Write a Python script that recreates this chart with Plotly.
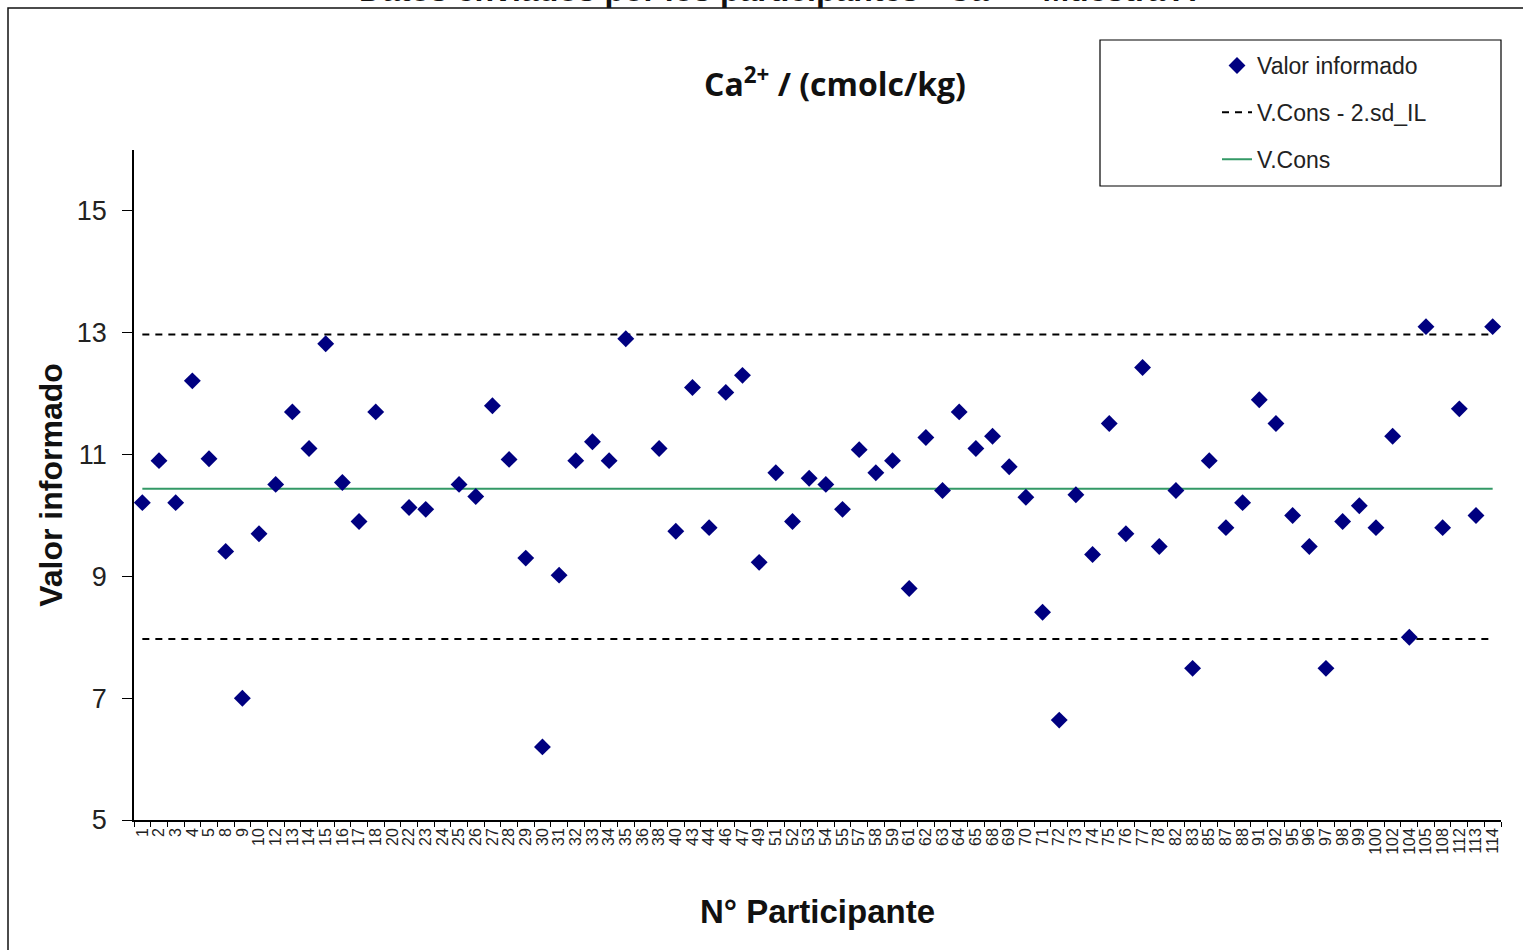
import plotly.graph_objects as go

# ---- data ----
participants = ["1", "2", "3", "4", "5", "8", "9", "10", "12", "13", "14", "15", "16", "17", "18",
                "20", "22", "23", "24", "25", "26", "27", "28", "29", "30", "31", "32", "33", "34",
                "35", "36", "38", "40", "43", "44", "46", "47", "49", "51", "52", "53", "54", "55",
                "57", "58", "59", "61", "62", "63", "64", "65", "68", "69", "70", "71", "72", "73",
                "74", "75", "76", "77", "78", "82", "83", "85", "87", "88", "91", "92", "95", "96",
                "97", "98", "99", "100", "102", "104", "105", "108", "112", "113", "114"]
valores = [10.21, 10.90, 10.21, 12.21, 10.93, 9.41, 7.00, 9.70, 10.51, 11.70, 11.10, 12.82,
           10.54, 9.90, 11.70,
           None, 10.13, 10.10, None, 10.51, 10.31, 11.80, 10.92, 9.30, 6.20, 9.02, 10.90,
           11.21, 10.90,
           12.90, None, 11.10, 9.74, 12.10, 9.80, 12.02, 12.30, 9.23, 10.70, 9.90, 10.61,
           10.51, 10.10,
           11.08, 10.70, 10.90, 8.80, 11.28, 10.41, 11.70, 11.10, 11.30, 10.80, 10.30, 8.41,
           6.64, 10.34,
           9.36, 11.51, 9.70, 12.43, 9.49, 10.41, 7.49, 10.90, 9.80, 10.21, 11.90, 11.51,
           10.00, 9.49,
           7.49, 9.90, 10.16, 9.80, 11.30, 8.00, 13.10, 9.80, 11.75, 10.00, 13.10]
v_cons = 10.44
lim_sup = 12.97
lim_inf = 7.97

# ---- layout geometry (pixels) ----
W, H = 1523, 950
L, R, T, B = 134, 1501, 150, 820
pw, ph = R - L, B - T


def px(x):
    return (x - L) / pw


def py(y):
    return 1 - (y - T) / ph


fig = go.Figure()

x_ends = [participants[0], participants[-1]]

fig.add_trace(go.Scatter(
    x=x_ends, y=[v_cons, v_cons], mode="lines", name="V.Cons",
    line=dict(color="#339966", width=2), legendgroup="c", legendrank=3))
fig.add_trace(go.Scatter(
    x=x_ends, y=[lim_sup, lim_sup], mode="lines", name="V.Cons - 2.sd_IL",
    line=dict(color="black", width=2, dash="7px,6px"), legendgroup="b", legendrank=2))
fig.add_trace(go.Scatter(
    x=x_ends, y=[lim_inf, lim_inf], mode="lines", name="V.Cons - 2.sd_IL",
    line=dict(color="black", width=2, dash="7px,6px"), legendgroup="b", showlegend=False))
fig.add_trace(go.Scatter(
    x=participants, y=valores, mode="markers", name="Valor informado",
    marker=dict(symbol="diamond", size=13, color="#000080"),
    legendgroup="a", legendrank=1))

fig.update_layout(
    width=W, height=H,
    margin=dict(l=L, r=W - R, t=T, b=H - B),
    paper_bgcolor="white", plot_bgcolor="white",
    font=dict(family="Liberation Sans, Arial", color="black"),
    showlegend=True,
    legend=dict(x=px(1217), y=py(44), xanchor="left", yanchor="top",
                bgcolor="rgba(0,0,0,0)", borderwidth=0,
                font=dict(size=23, color="#222"), tracegroupgap=14),
    xaxis=dict(type="category", categoryorder="array", categoryarray=participants,
               range=[-0.5, len(participants) - 0.5],
               tickmode="linear", tick0=0, dtick=1,
               showline=True, linecolor="black", linewidth=1.5,
               ticks="outside", ticklen=5, tickcolor="black", tickson="boundaries",
               tickangle=-90, tickfont=dict(size=16, color="#222"),
               showgrid=False, zeroline=False,
               title=dict(text="<b>N° Participante</b>", font=dict(size=33, color="#111"),
                          standoff=46)),
    yaxis=dict(range=[5, 16], tick0=5, dtick=2,
               showline=True, linecolor="black", linewidth=1.5,
               ticks="outside", ticklen=10, tickcolor="black",
               ticklabelstandoff=10,
               tickfont=dict(size=27, color="#222"),
               showgrid=False, zeroline=False,
               title=dict(text="<b>Valor informado</b>", font=dict(size=32, color="#111"),
                          standoff=5)),
    shapes=[
        dict(type="rect", xref="paper", yref="paper",
             x0=px(1100), x1=px(1501), y0=py(186), y1=py(40),
             line=dict(color="black", width=1.2), fillcolor="rgba(0,0,0,0)", layer="below"),
        dict(type="rect", xref="paper", yref="paper",
             x0=px(8), x1=px(1540), y0=py(970), y1=py(8),
             line=dict(color="#111", width=1.5), fillcolor="rgba(0,0,0,0)", layer="below"),
    ],
    annotations=[
        dict(text="<b>Ca<sup>2+</sup> / (cmolc/kg)</b>", xref="paper", yref="paper",
             x=px(835), y=py(82), xanchor="center", yanchor="middle", showarrow=False,
             font=dict(family="Open Sans, sans-serif", size=32, color="#111")),
        dict(text="<b>Datos enviados por los participantes - Ca<sup>2+</sup> - Muestra A</b>",
             xref="paper", yref="paper",
             x=px(777), y=py(-12), xanchor="center", yanchor="middle", showarrow=False,
             font=dict(size=32, color="#111")),
    ],
)

fig.write_html("out.html")
